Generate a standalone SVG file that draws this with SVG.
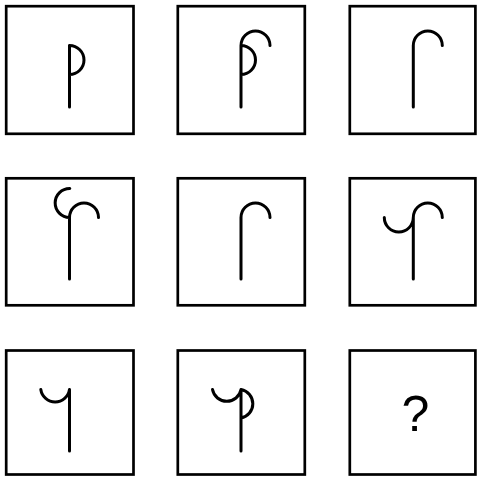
<svg xmlns="http://www.w3.org/2000/svg" width="478" height="477" viewBox="0 0 478 477">
<style>
.box{fill:#fff;stroke:#000;stroke-width:2.7}
.g{fill:none;stroke:#000;stroke-width:3;stroke-linecap:round;stroke-linejoin:round}
.q{font-family:"Liberation Sans",Arial,sans-serif;font-size:50px;fill:#000;text-anchor:middle}
</style>
<rect width="478" height="477" fill="#fff"/>
<g id="cell1">
<rect class="box" x="6.2" y="6.2" width="127.3" height="127.6"/>
<path class="g" d="M69.5,45.5 V107 M69.5,45.5 A14.5,14.5 0 0 1 69.5,74.5"/>
</g>
<g id="cell2">
<rect class="box" x="177.8" y="6.2" width="127" height="127.6"/>
<path class="g" d="M241,45.5 V107 M241,45.5 A14.5,14.5 0 0 1 241,74.5 M241,45.5 A14.5,14.5 0 0 1 270,45.5"/>
</g>
<g id="cell3">
<rect class="box" x="349.8" y="6.2" width="125.6" height="127.6"/>
<path class="g" d="M413.3,45.5 V107 M413.3,45.5 A14.5,14.5 0 0 1 442.3,45.5"/>
</g>
<g id="cell4">
<rect class="box" x="6.2" y="178.3" width="127.3" height="127"/>
<path class="g" d="M69.5,217.5 V279 M69.5,217.5 A14.5,14.5 0 0 1 98.5,217.5 M69.8,188.5 A14.5,14.5 0 0 0 69.5,217.5"/>
</g>
<g id="cell5">
<rect class="box" x="177.8" y="178.3" width="127" height="127"/>
<path class="g" d="M241,217.5 V279 M241,217.5 A14.5,14.5 0 0 1 270,217.5"/>
</g>
<g id="cell6">
<rect class="box" x="349.8" y="178.3" width="125.6" height="127"/>
<path class="g" d="M413.3,217.5 V279 M413.3,217.5 A14.5,14.5 0 0 1 442.3,217.5 M384.3,217.5 A14.5,14.5 0 0 0 413.3,217.5"/>
</g>
<g id="cell7">
<rect class="box" x="6.2" y="350.5" width="127.3" height="124"/>
<path class="g" d="M69.5,389.5 V451 M40.8,389.5 A14.5,14.5 0 0 0 69.5,389.5"/>
</g>
<g id="cell8">
<rect class="box" x="177.8" y="350.5" width="127" height="124"/>
<path class="g" d="M241,389.5 V451 M241,389.5 A14.5,14.5 0 0 1 241,418 M212.5,389.5 A14.5,14.5 0 0 0 241,389.5"/>
</g>
<g id="cell9">
<rect class="box" x="349.8" y="350.5" width="125.6" height="124"/>
<text class="q" x="415.5" y="430.7">?</text>
</g>
</svg>
